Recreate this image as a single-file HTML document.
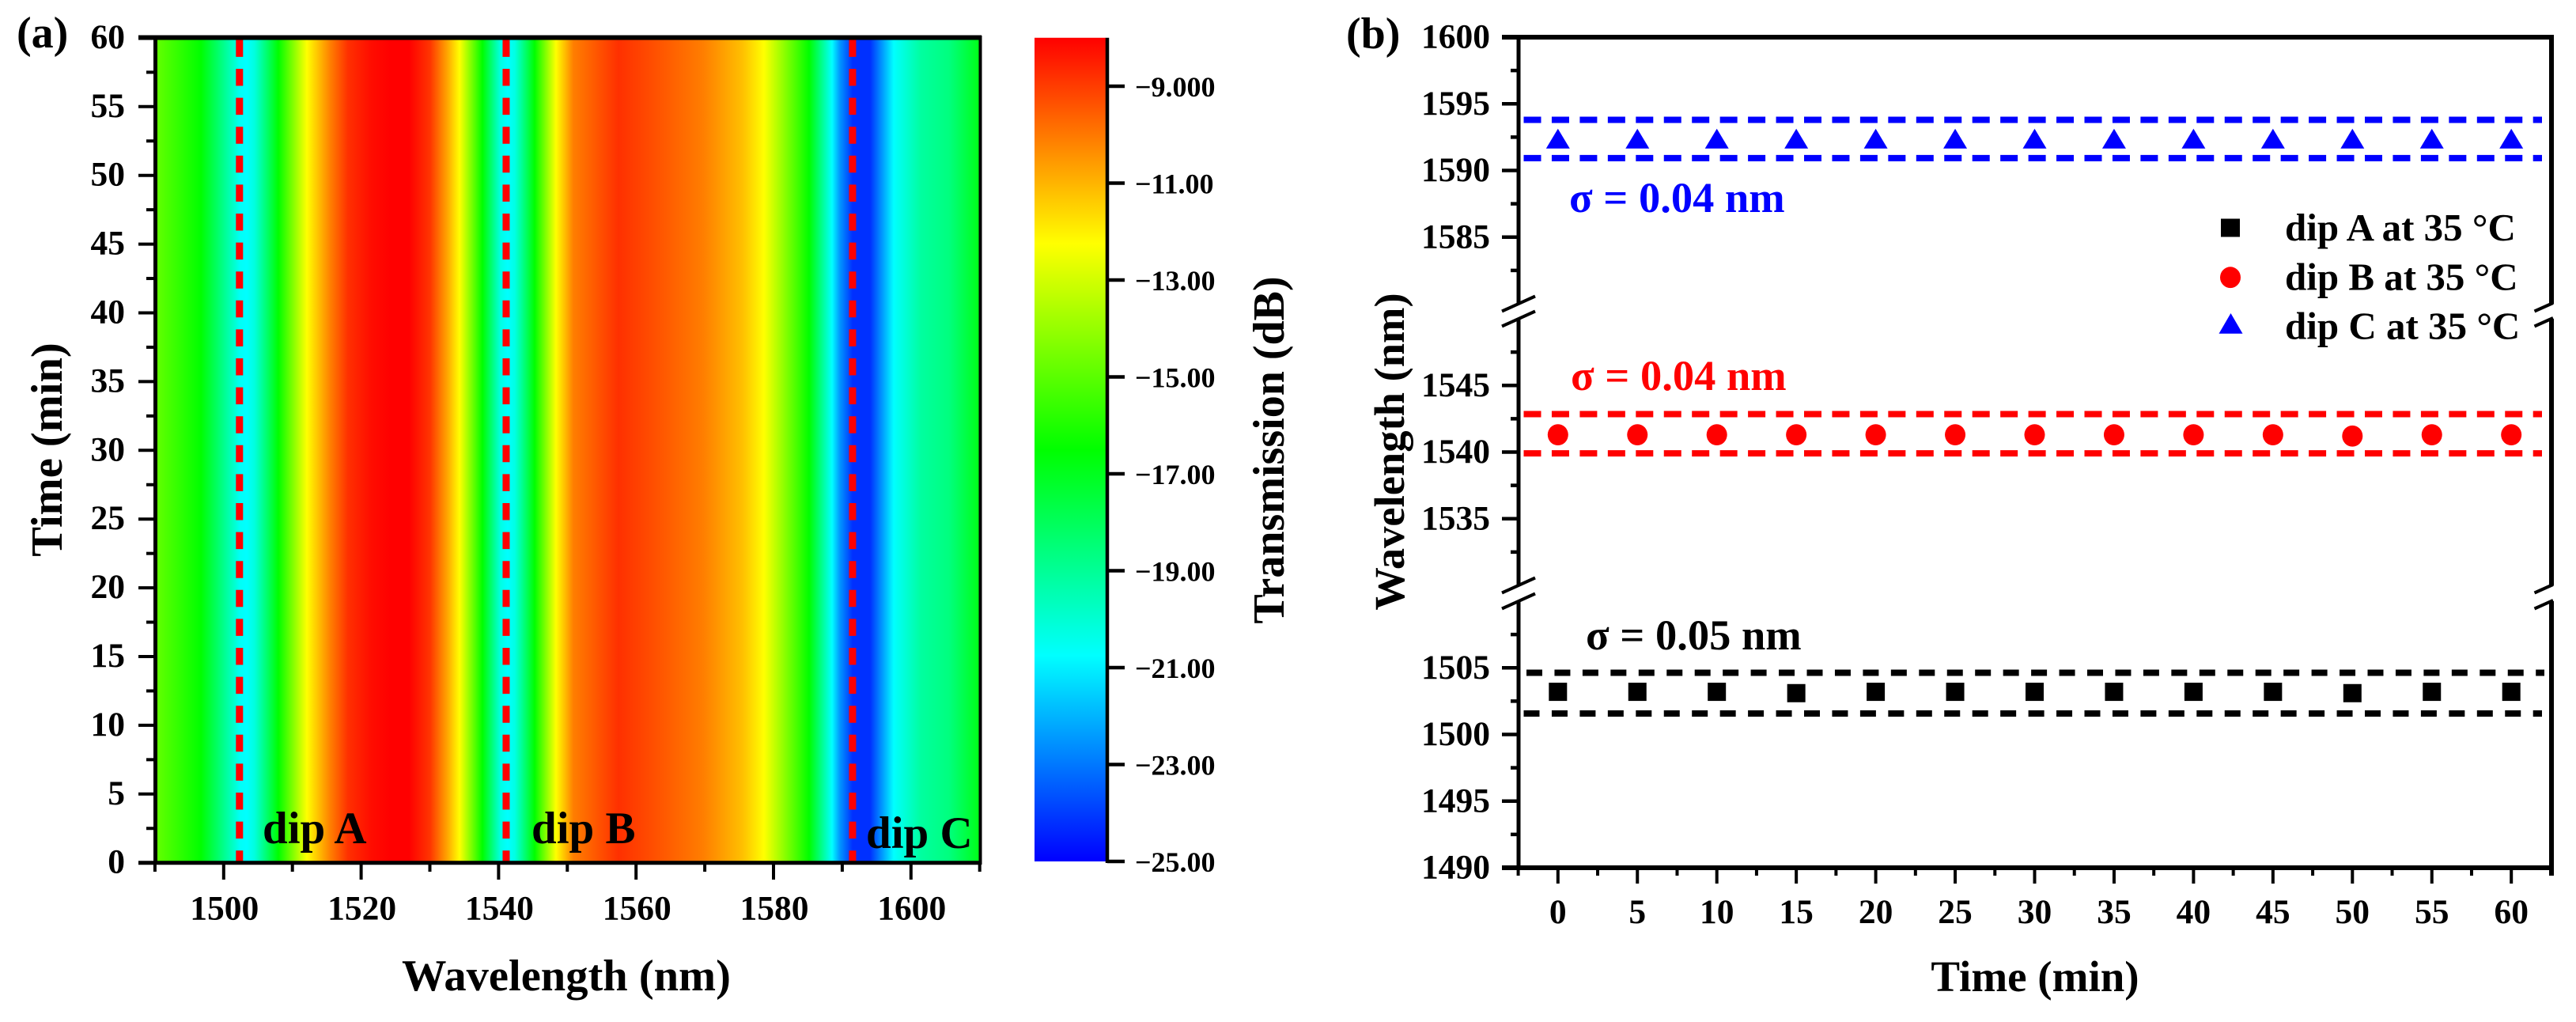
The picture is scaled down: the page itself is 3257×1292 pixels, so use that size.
<!DOCTYPE html>
<html lang="en">
<head>
<meta charset="utf-8">
<title>Transmission stability heatmap and dip wavelength chart</title>
<style>
html,body{margin:0;padding:0;background:#fff;}
svg{display:block;}
text{font-family:"Liberation Serif","DejaVu Serif",serif;font-weight:bold;fill:#000;}
</style>
</head>
<body>
<svg id="figure" xmlns="http://www.w3.org/2000/svg" width="3257" height="1292" viewBox="0 0 3257 1292">
  <rect x="0" y="0" width="3257" height="1292" fill="#fff"/>
  <defs id="defs"></defs>
  <g id="panelA"></g>
  <g id="panelB"></g>

  <text x="21" y="60" font-size="56">(a)</text>
  <text x="1702" y="61" font-size="56">(b)</text>

  <text x="716" y="1252" font-size="56.5" text-anchor="middle">Wavelength (nm)</text>
  <text transform="translate(78 568.5) rotate(-90)" font-size="56.5" text-anchor="middle">Time (min)</text>
  <text transform="translate(1623 569) rotate(-90)" font-size="56" text-anchor="middle">Transmission (dB)</text>

  <text x="332" y="1066" font-size="57">dip A</text>
  <text x="672" y="1066" font-size="57">dip B</text>
  <text x="1095" y="1072" font-size="57">dip C</text>

  <text x="2573" y="1253" font-size="55" text-anchor="middle">Time (min)</text>
  <text transform="translate(1775 571) rotate(-90)" font-size="54.5" text-anchor="middle">Wavelength (nm)</text>

  <text x="1984" y="268" font-size="54.5" style="fill:#0000ff">σ = 0.04 nm</text>
  <text x="1986" y="493" font-size="54.5" style="fill:#ff0000">σ = 0.04 nm</text>
  <text x="2005" y="821" font-size="54.5">σ = 0.05 nm</text>

  <g>
    <rect x="2808" y="276.5" width="24" height="23" fill="#000"/>
    <ellipse cx="2820" cy="350.7" rx="13" ry="13.4" fill="#ff0000"/>
    <polygon points="2820.5,396 2835.5,421.7 2805.5,421.7" fill="#0000ff"/>
    <text x="2889" y="304" font-size="49">dip A at 35 °C</text>
    <text x="2889" y="366.5" font-size="49">dip B at 35 °C</text>
    <text x="2889" y="428.5" font-size="49">dip C at 35 °C</text>
  </g>
</svg>

<script>
// ---- Panel (a) data ----
const heatWavelengths = [1490,1496.7,1501.6,1502.3,1503.4,1504.5,1506,1508,1512.1,1515.6,1518.1,1521.5,1524.3,1527,1530,1532.6,1534.3,1537.6,1540.3,1541.3,1542.4,1545.3,1548.3,1550.9,1557.5,1562.4,1569.8,1575.5,1578.6,1585.2,1588.5,1589.7,1591.5,1594,1595.7,1597.5,1601.4,1605.5,1609.7,1610];
const heatTransmission = [-14.8,-16.5,-20,-20.6,-20.75,-20.2,-18.6,-16.5,-12.25,-10.1,-8.8,-8.2,-8,-8,-8.9,-10.8,-12.25,-16.5,-20.3,-20.75,-20.3,-16.5,-12.25,-10.1,-8.8,-9.3,-10.1,-11.2,-12.25,-16.5,-20.75,-22.5,-24.2,-24.2,-22.6,-20.75,-19.17,-18.6,-17,-16.8];
const dipWavelengths = [1502.3, 1541.1, 1591.5];
const heatXTicks = [1500,1520,1540,1560,1580,1600];
const heatXMinorTicks = [1490,1510,1530,1550,1570,1590,1610];
const heatYTicks = [0,5,10,15,20,25,30,35,40,45,50,55,60];
const heatYMinorTicks = [2.5,7.5,12.5,17.5,22.5,27.5,32.5,37.5,42.5,47.5,52.5,57.5];
const colorAnchorValues = [-25,-20.75,-16.5,-12.25,-8];
const colorAnchorRGB = [[0,0,255],[0,255,255],[0,255,0],[255,255,0],[255,0,0]];
const colorbarTicks = [-9,-11,-13,-15,-17,-19,-21,-23,-25];
const colorbarTickLabels = ['−9.000','−11.00','−13.00','−15.00','−17.00','−19.00','−21.00','−23.00','−25.00'];

// ---- Panel (b) data ----
const times = [0,5,10,15,20,25,30,35,40,45,50,55,60];
const dipAValues = [1503.2,1503.2,1503.2,1503.1,1503.2,1503.2,1503.2,1503.2,1503.2,1503.2,1503.1,1503.2,1503.2];
const dipBValues = [1541.3,1541.3,1541.3,1541.3,1541.3,1541.3,1541.3,1541.3,1541.3,1541.3,1541.2,1541.3,1541.3];
const dipCValues = [1592.3,1592.3,1592.3,1592.3,1592.3,1592.3,1592.3,1592.3,1592.3,1592.3,1592.3,1592.3,1592.3];
const dipABand = [1501.57,1504.63];
const dipBBand = [1539.9,1542.85];
const dipCBand = [1590.93,1593.8];
const lineXMinorTicks = [-2.5,2.5,7.5,12.5,17.5,22.5,27.5,32.5,37.5,42.5,47.5,52.5,57.5,62.5];
const lineYTicks = [1490,1495,1500,1505,1535,1540,1545,1585,1590,1595,1600];
const lineYMinorTicks = [1492.5,1497.5,1502.5,1507.5,1532.5,1537.5,1542.5,1547.5,1582.5,1587.5,1592.5,1597.5];
const lineAxisSegments = [[1490,1510],[1530,1550],[1580,1600]];

// ---- Axis functions ----
function xA(w){ return 195.9 + (w - 1490) * 8.69; }
function yA(t){ return 1090.7 - t * 17.38; }
function yC(v){ return 109 + (-9 - v) * 61.25; }
function xB(t){ return 1969.8 + t * 20.09; }
function yB(v){
  if (v >= 1580) return 47 + (1600 - v) * 16.85;
  if (v >= 1530) return 403 + (1550 - v) * 16.85;
  return 760 + (1510 - v) * 16.85;
}

function colorOf(v){
  if (v <= colorAnchorValues[0]) return colorAnchorRGB[0];
  for (let i = 1; i < colorAnchorValues.length; i++) {
    if (v <= colorAnchorValues[i]) {
      const f = (v - colorAnchorValues[i-1]) / (colorAnchorValues[i] - colorAnchorValues[i-1]);
      return colorAnchorRGB[i].map((c, k) => Math.round(colorAnchorRGB[i-1][k] + (c - colorAnchorRGB[i-1][k]) * f));
    }
  }
  return colorAnchorRGB[colorAnchorRGB.length - 1];
}
function css(rgb){ return 'rgb(' + rgb.join(',') + ')'; }

const NS = 'http://www.w3.org/2000/svg';
const defs = document.getElementById('defs');
const panelA = document.getElementById('panelA');
const panelB = document.getElementById('panelB');

function make(tag, parent, attrs, content){
  const el = document.createElementNS(NS, tag);
  for (const k in attrs) el.setAttribute(k, attrs[k]);
  if (content !== undefined) el.textContent = content;
  parent.appendChild(el);
  return el;
}
function gradient(id, x1, y1, x2, y2, stops){
  const g = make('linearGradient', defs, {id: id, gradientUnits: 'userSpaceOnUse', x1: x1, y1: y1, x2: x2, y2: y2});
  stops.forEach(s => make('stop', g, {offset: s[0], 'stop-color': s[1]}));
}

// ---- Heatmap columns ----
for (let i = 0; i < heatWavelengths.length - 1; i++) {
  const x0 = Math.round(xA(heatWavelengths[i]));
  const x1 = Math.round(xA(heatWavelengths[i + 1]));
  gradient('heat' + i, x0, 0, x1, 0, [[0, css(colorOf(heatTransmission[i]))], [1, css(colorOf(heatTransmission[i + 1]))]]);
  const cell = make('rect', panelA, {x: x0, y: yA(60), width: x1 - x0, height: yA(0) - yA(60), fill: 'url(#heat' + i + ')', 'shape-rendering': 'crispEdges'});
  
  
}

// ---- Dip marker lines ----
dipWavelengths.forEach(w => {
  const l = make('line', panelA, {x1: xA(w), x2: xA(w), y1: 50.4, y2: yA(0), stroke: '#ff0000', 'stroke-width': 9, 'stroke-dasharray': '21.5 15.1'});
  
  
});

// ---- Heatmap frame ----
const frameTop = make('line', panelA, {x1: 175, x2: 1241, y1: 47.5, y2: 47.5, stroke: '#000', 'stroke-width': 6});


const frameBottom = make('line', panelA, {x1: 175, x2: 1241, y1: 1090.7, y2: 1090.7, stroke: '#000', 'stroke-width': 5});


const frameLeft = make('line', panelA, {x1: 196.5, x2: 196.5, y1: 45, y2: 1093, stroke: '#000', 'stroke-width': 5});


const frameRight = make('line', panelA, {x1: 1239.5, x2: 1239.5, y1: 45, y2: 1093, stroke: '#000', 'stroke-width': 4});



// ---- Heatmap ticks ----
heatXTicks.forEach(v => {
  const t = make('line', panelA, {x1: xA(v), x2: xA(v), y1: 1090, y2: 1112, stroke: '#000', 'stroke-width': 4});
  
  
  const lb = make('text', panelA, {x: xA(v) + 1, y: 1162.5, 'font-size': 43.5, 'text-anchor': 'middle'}, String(v));
  
  
});
heatXMinorTicks.forEach(v => {
  const t = make('line', panelA, {x1: xA(v), x2: xA(v), y1: 1090, y2: 1102, stroke: '#000', 'stroke-width': 4});
  
  
});
heatYTicks.forEach(v => {
  const t = make('line', panelA, {x1: 175, x2: 196, y1: yA(v), y2: yA(v), stroke: '#000', 'stroke-width': 4});
  
  
  const lb = make('text', panelA, {x: 158, y: yA(v) + 13, 'font-size': 43.5, 'text-anchor': 'end'}, String(v));
  
  
});
heatYMinorTicks.forEach(v => {
  const t = make('line', panelA, {x1: 185, x2: 196, y1: yA(v), y2: yA(v), stroke: '#000', 'stroke-width': 4});
  
  
});

// ---- Colorbar ----
gradient('cbar', 0, yC(-8), 0, yC(-25), colorAnchorValues.map((v, i) => [(-8 - v) / 17, css(colorAnchorRGB[i])]).reverse());
const cbar = make('rect', panelA, {x: 1308, y: yC(-8), width: 90, height: yC(-25) - yC(-8), fill: 'url(#cbar)'});


const cbarAxis = make('line', panelA, {x1: 1400, x2: 1400, y1: yC(-8), y2: yC(-25) + 2, stroke: '#000', 'stroke-width': 4.5});


colorbarTicks.forEach((v, i) => {
  const t = make('line', panelA, {x1: 1400, x2: 1422, y1: yC(v), y2: yC(v), stroke: '#000', 'stroke-width': 4.5});
  
  
  const lb = make('text', panelA, {x: 1435, y: yC(v) + 13, 'font-size': 36}, colorbarTickLabels[i]);
  
  
});

// ---- Panel (b) frame and axes ----
const bTop = make('line', panelB, {x1: 1899, x2: 3229, y1: 47, y2: 47, stroke: '#000', 'stroke-width': 6});


const bBottom = make('line', panelB, {x1: 1899, x2: 3229, y1: 1097, y2: 1097, stroke: '#000', 'stroke-width': 6});


lineAxisSegments.forEach((seg, i) => {
  const top = yB(seg[1]);
  const bottom = yB(seg[0]);
  const la = make('line', panelB, {x1: 1920, x2: 1920, y1: top, y2: bottom, stroke: '#000', 'stroke-width': 5});
  
  
  const ra = make('line', panelB, {x1: 3226, x2: 3226, y1: top, y2: bottom + (i === 0 ? 10 : 0), stroke: '#000', 'stroke-width': 6});
  
  
  [top, bottom].forEach((end, k) => {
    if ((i === 0 && k === 1) || (i === 2 && k === 0)) return;
    const s1 = make('line', panelB, {x1: 1899, x2: 1941, y1: end + 9.5, y2: end - 9.5, stroke: '#000', 'stroke-width': 4});
    
    
    const s2 = make('line', panelB, {x1: 3204.5, x2: 3228, y1: end + 9.5, y2: end - 1, stroke: '#000', 'stroke-width': 4});
    
    
  });
});
times.forEach(v => {
  const t = make('line', panelB, {x1: xB(v), x2: xB(v), y1: 1097, y2: 1117, stroke: '#000', 'stroke-width': 4});
  
  
  const lb = make('text', panelB, {x: xB(v), y: 1167, 'font-size': 43.5, 'text-anchor': 'middle'}, String(v));
  
  
});
lineXMinorTicks.forEach(v => {
  const t = make('line', panelB, {x1: xB(v), x2: xB(v), y1: 1097, y2: 1107, stroke: '#000', 'stroke-width': 4});
  
  
});
lineYTicks.forEach(v => {
  const t = make('line', panelB, {x1: 1899, x2: 1920, y1: yB(v), y2: yB(v), stroke: '#000', 'stroke-width': 4.5});
  
  
  const lb = make('text', panelB, {x: 1884, y: yB(v) + 13.5, 'font-size': 43.5, 'text-anchor': 'end'}, String(v));
  
  
});
lineYMinorTicks.forEach(v => {
  const t = make('line', panelB, {x1: 1910, x2: 1920, y1: yB(v), y2: yB(v), stroke: '#000', 'stroke-width': 4.5});
  
  
});

// ---- Deviation bands ----
dipCBand.forEach(v => {
  const l = make('line', panelB, {x1: 1926.5, x2: 3214, y1: yB(v), y2: yB(v), stroke: '#0000ff', 'stroke-width': 8, 'stroke-dasharray': '22 13.45'});
  
  
});
dipBBand.forEach(v => {
  const l = make('line', panelB, {x1: 1926.5, x2: 3214, y1: yB(v), y2: yB(v), stroke: '#ff0000', 'stroke-width': 8, 'stroke-dasharray': '22 13.45'});
  
  
});
dipABand.forEach((v, i) => {
  const l = make('line', panelB, {x1: i === 0 ? 1926.5 : 1930, x2: i === 0 ? 3214 : 3217, y1: yB(v), y2: yB(v), stroke: '#000', 'stroke-width': 8, 'stroke-dasharray': '20 15.45'});
  
  
});

// ---- Series markers ----
times.forEach((t, i) => {
  const x = xB(t);
  const a = make('rect', panelB, {x: x - 11.5, y: yB(dipAValues[i]) - 11.5, width: 23, height: 23, fill: '#000'});
  
  
  const b = make('ellipse', panelB, {cx: x, cy: yB(dipBValues[i]), rx: 13, ry: 13.4, fill: '#ff0000'});
  
  
  const yc = yB(dipCValues[i]);
  const c = make('polygon', panelB, {points: x + ',' + (yc - 14) + ' ' + (x + 15) + ',' + (yc + 11) + ' ' + (x - 15) + ',' + (yc + 11), fill: '#0000ff'});
  
  
});
</script>
</body>
</html>
